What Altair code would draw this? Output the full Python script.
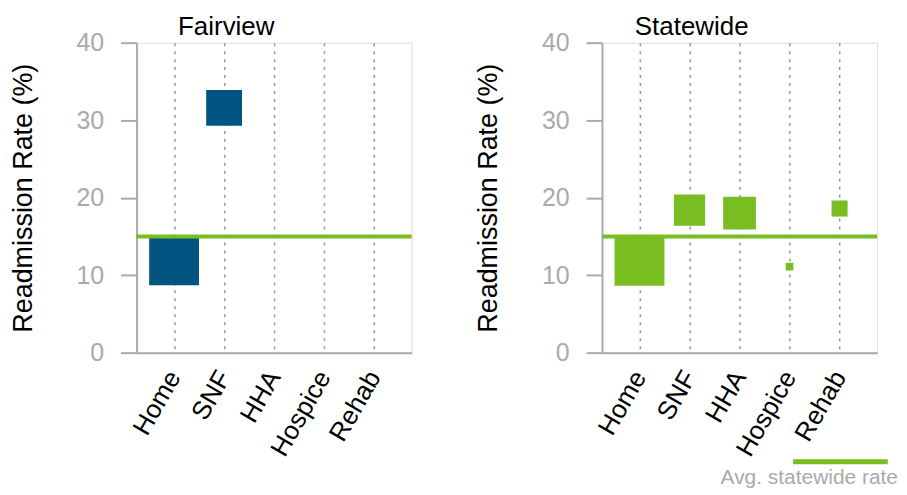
import altair as alt
import pandas as pd

# ---- data ----
categories = ["Home", "SNF", "HHA", "Hospice", "Rehab"]

fair_settings = ["Home", "SNF"]
fair_rates = [11.9, 31.6]
fair_share = [66, 34]

state_settings = ["Home", "SNF", "HHA", "Hospice", "Rehab"]
state_rates = [11.85, 18.4, 18.0, 11.1, 18.6]
state_share = [51, 20, 22, 1.2, 5.3]

avg_rate = 15.0
avg_label = "Avg. statewide rate"

BLUE = "#01547f"
GREEN = "#78be20"
GRAY = "#aaaaaa"
FONT = "Liberation Sans"

fair_df = pd.DataFrame({"setting": fair_settings, "rate": fair_rates, "share": fair_share})
state_df = pd.DataFrame({"setting": state_settings, "rate": state_rates, "share": state_share})
avg_df = pd.DataFrame({"rate": [avg_rate], "label": [avg_label]})


def panel(df, color, title, legend):
    x = alt.X(
        "setting:N",
        scale=alt.Scale(type="point", domain=categories, padding=0.75),
        axis=alt.Axis(
            title=None, labelAngle=-60, labelFontSize=26, labelColor="black",
            labelFont=FONT, ticks=False, domainColor=GRAY, domainWidth=2,
            grid=True, gridDash=[3, 5], gridColor="#999999", gridWidth=1.5,
            labelPadding=20,
        ),
    )
    y = alt.Y(
        "rate:Q",
        scale=alt.Scale(domain=[0, 40]),
        axis=alt.Axis(
            values=[0, 10, 20, 30, 40], grid=False, tickSize=16, tickColor=GRAY,
            tickWidth=2, domainColor=GRAY, domainWidth=2, labelColor=GRAY,
            labelFontSize=25, labelFont=FONT, labelPadding=17,
            title="Readmission Rate (%)", titleFontSize=27, titleFont=FONT,
            titleFontWeight="normal", titleColor="black", titlePadding=39,
        ),
    )
    boxes = alt.Chart(df).mark_square(color=color, opacity=1).encode(
        x=x,
        y=y,
        size=alt.Size(
            "share:Q",
            scale=alt.Scale(domain=[0, max(df["share"])], range=[0, 2500]),
            legend=None,
        ),
    )
    if legend:
        rule = alt.Chart(avg_df).mark_rule(strokeWidth=4).encode(
            y=alt.Y("rate:Q"),
            stroke=alt.Stroke(
                "label:N",
                scale=alt.Scale(range=[GREEN]),
                legend=alt.Legend(
                    orient="none", legendX=119, legendY=413,
                    title=avg_label, titleOrient="bottom", titleAnchor="end",
                    titleFontSize=21, titleFont=FONT, titleFontWeight="normal",
                    titleColor=GRAY, symbolType="M-13,0H7", symbolSize=90.25,
                    symbolStrokeWidth=5, labelExpr="''", labelOffset=0,
                    padding=0, titlePadding=-5,
                ),
            ),
        )
    else:
        rule = alt.Chart(avg_df).mark_rule(strokeWidth=4, color=GREEN).encode(
            y=alt.Y("rate:Q")
        )
    return alt.layer(boxes, rule).properties(
        width=276,
        height=311,
        title=alt.TitleParams(
            title, fontSize=26, font=FONT, fontWeight="normal", color="black",
            anchor="middle", dx=-48, offset=-9,
        ),
    )


left = panel(fair_df, BLUE, "Fairview", False)
right = panel(state_df, GREEN, "Statewide", True)

chart = (
    alt.hconcat(left, right, spacing=59)
    .resolve_scale(size="independent", stroke="independent")
    .resolve_legend(stroke="independent")
    .properties(padding={"left": 0, "top": 4, "right": 0, "bottom": 0})
    .configure_view(stroke=None)
    .configure(font=FONT)
)

chart.save("out.html", embed_options={"renderer": "svg", "actions": False})
